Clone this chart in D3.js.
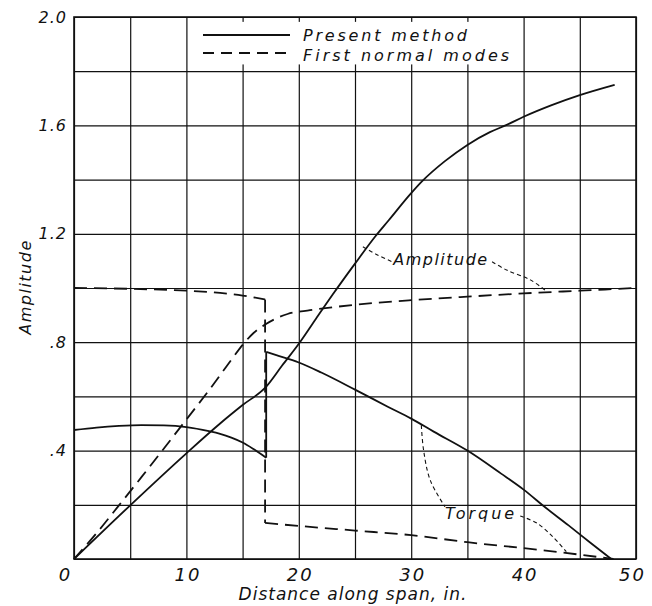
<!DOCTYPE html>
<html lang="en">
  <head>
    <meta charset="utf-8">
    <title>Amplitude along span</title>
    <script type="text/javascript" src="https://cdn.jsdelivr.net/npm/d3@7/dist/d3.min.js"></script>
    <style type="text/css">
      body { margin: 0; background: #fff; }
      text { font-family: "DejaVu Sans", sans-serif; font-style: italic; fill: #111; }
      .grid line { stroke: #111; stroke-width: 1.2; }
      .grid path { display: none; }
      .axis path, .axis line { display: none; }
      .axis text { font-size: 16px; letter-spacing: 1px; }
      .xaxis text { font-size: 18px; letter-spacing: 2px; }
    </style>
  </head>
  <body>
    <script type="text/javascript">

    // grid and ticks
    const xGrid = [0, 5, 10, 15, 20, 25, 30, 35, 40, 45, 50];
    const yGrid = [0, 0.2, 0.4, 0.6, 0.8, 1.0, 1.2, 1.4, 1.6, 1.8, 2.0];
    const xTicks = [0, 10, 20, 30, 40, 50];
    const xTickLabels = ["0", "10", "20", "30", "40", "50"];
    const yTicks = [0.4, 0.8, 1.2, 1.6, 2.0];
    const yTickLabels = [".4", ".8", "1.2", "1.6", "2.0"];

    // present method (solid)
    const presentAmplitude = [[0,0],[5,0.198],[10,0.39],[13,0.5],[15,0.568],[17.1,0.636],[18.5,0.713],[20.1,0.8],
      [21.5,0.885],[23,0.975],[25,1.09],[26.8,1.19],[28,1.25],[30,1.35],[31,1.395],[33,1.468],[35,1.528],
      [37,1.575],[38.5,1.602],[40,1.632],[42.5,1.675],[45,1.712],[48.1,1.75]];
    const presentTorqueLeft = [[0,0.476],[2,0.485],[4,0.491],[6,0.494],[8,0.493],[10,0.487],[12,0.472],
      [13,0.462],[14,0.448],[15,0.43],[16,0.405],[17.1,0.374]];
    const presentTorqueJump = [[17.1,0.374],[17.1,0.764]];
    const presentTorqueRight = [[17.1,0.764],[18,0.752],[20,0.725],[22,0.688],[25,0.625],[28,0.56],[30,0.518],
      [32,0.47],[35,0.4],[38,0.315],[40,0.256],[42,0.188],[44,0.124],[46,0.058],[47.8,0]];

    // first normal modes (dashed)
    const modesAmplitude = [[0,0],[2,0.095],[4,0.198],[6,0.302],[8,0.408],[10,0.515],[12,0.622],[14,0.735],
      [15,0.79],[16,0.835],[17,0.865],[18,0.888],[19,0.904],[21,0.918],[25,0.938],[30,0.955],[35,0.968],
      [40,0.98],[45,0.99],[50,1.0]];
    const modesTorqueLeft = [[0,1.0],[5,0.997],[10,0.99],[13,0.982],[15,0.972],[17,0.958]];
    const modesTorqueJump = [[17,0.958],[17,0.133]];
    const modesTorqueRight = [[17,0.133],[20,0.122],[25,0.105],[30,0.088],[35,0.062],[40,0.04],[45,0.016],[48,0]];

    // annotation leaders and labels
    const ampLeaderLeft = [[25.7,1.152],[27,1.122],[28.3,1.097]];
    const ampLeaderRight = [[37.2,1.097],[38.5,1.066],[40.6,1.03],[42.1,0.986]];
    const torqueLeaderLeft = [[30.9,0.494],[31.1,0.402],[31.7,0.29],[33.0,0.193]];
    const torqueLeaderRight = [[39.7,0.159],[41.2,0.132],[42.6,0.082],[43.8,0.027]];
    const labelNames = ["Amplitude", "Torque"];
    const labelX = [28.4, 33.0];
    const labelY = [1.085, 0.148];

    const w = 652;
    const h = 606;
    const margin = {top: 17, right: 16, bottom: 47, left: 74};
    const innerWidth = w - margin.left - margin.right;
    const innerHeight = h - margin.top - margin.bottom;

    const svg = d3.select("body")
                  .append("svg")
                  .attr("width", w)
                  .attr("height", h);

    const g = svg.append("g")
                 .attr("transform", "translate(" + margin.left + "," + margin.top + ")");

    const xScale = d3.scaleLinear().domain([0, 50]).range([0, innerWidth]);
    const yScale = d3.scaleLinear().domain([0, 2.0]).range([innerHeight, 0]);

    // grid
    g.append("g")
     .attr("class", "grid")
     .attr("transform", "translate(0," + innerHeight + ")")
     .call(d3.axisBottom(xScale).tickValues(xGrid).tickSize(-innerHeight).tickFormat(""));

    g.append("g")
     .attr("class", "grid")
     .call(d3.axisLeft(yScale).tickValues(yGrid).tickSize(-innerWidth).tickFormat(""));

    g.append("rect")
     .attr("width", innerWidth)
     .attr("height", innerHeight)
     .attr("fill", "none")
     .attr("stroke", "#111")
     .attr("stroke-width", 1.6);

    // legend box blanks the grid
    g.append("rect")
     .attr("x", xScale(10.6))
     .attr("y", yScale(1.982))
     .attr("width", xScale(39.9) - xScale(10.6))
     .attr("height", yScale(1.825) - yScale(1.982))
     .attr("fill", "#fff");

    // axes labels
    g.append("g")
     .attr("class", "axis xaxis")
     .attr("transform", "translate(0," + innerHeight + ")")
     .call(d3.axisBottom(xScale).tickValues(xTicks).tickSize(0).tickPadding(9)
             .tickFormat((d, i) => xTickLabels[i]))
     .selectAll("text")
     .attr("dx", (d, i) => i === 0 ? -9 : (i === xTicks.length - 1 ? -4 : 1));

    g.append("g")
     .attr("class", "axis")
     .call(d3.axisLeft(yScale).tickValues(yTicks).tickSize(0).tickPadding(7)
             .tickFormat((d, i) => yTickLabels[i]));

    // curves
    const smooth = d3.line()
                     .x(d => xScale(d[0]))
                     .y(d => yScale(d[1]))
                     .curve(d3.curveMonotoneX);
    const straight = d3.line()
                       .x(d => xScale(d[0]))
                       .y(d => yScale(d[1]));
    const leader = d3.line()
                     .x(d => xScale(d[0]))
                     .y(d => yScale(d[1]))
                     .curve(d3.curveCatmullRom);

    const solidStyle = sel => sel.attr("fill", "none").attr("stroke", "#111").attr("stroke-width", 1.8);
    const dashStyle = sel => sel.attr("fill", "none").attr("stroke", "#111").attr("stroke-width", 1.8)
                                .attr("stroke-dasharray", "13,7");
    const dotStyle = sel => sel.attr("fill", "none").attr("stroke", "#111").attr("stroke-width", 1.1)
                               .attr("stroke-dasharray", "4,3");

    [modesAmplitude, modesTorqueLeft, modesTorqueRight].forEach(s => g.append("path").attr("d", smooth(s)).call(dashStyle));
    g.append("path").attr("d", straight(modesTorqueJump)).call(dashStyle);

    [presentAmplitude, presentTorqueLeft, presentTorqueRight].forEach(s => g.append("path").attr("d", smooth(s)).call(solidStyle));
    g.append("path").attr("d", straight(presentTorqueJump)).call(solidStyle);

    [ampLeaderLeft, ampLeaderRight, torqueLeaderLeft, torqueLeaderRight]
      .forEach(s => g.append("path").attr("d", leader(s)).call(dotStyle));

    g.selectAll(".label")
     .data(labelNames)
     .enter()
     .append("text")
     .attr("class", "label")
     .attr("x", (d, i) => xScale(labelX[i]))
     .attr("y", (d, i) => yScale(labelY[i]))
     .style("font-size", "16px")
     .style("letter-spacing", (d, i) => i === 0 ? "1.5px" : "3px")
     .text(d => d);

    // legend
    const legend = g.append("g").attr("transform", "translate(129,18)");
    legend.append("line").attr("x1", 0).attr("x2", 87).attr("y1", 0).attr("y2", 0).call(solidStyle);
    legend.append("line").attr("x1", 0).attr("x2", 87).attr("y1", 18).attr("y2", 18)
          .call(dashStyle).attr("stroke-dasharray", "11,7");
    legend.append("text").attr("x", 100).attr("y", 5.5)
          .style("font-size", "16px").style("letter-spacing", "2.8px").text("Present method");
    legend.append("text").attr("x", 100).attr("y", 25.5)
          .style("font-size", "16px").style("letter-spacing", "3px").text("First normal modes");

    // axis titles
    svg.append("text")
       .attr("x", 353)
       .attr("y", 600)
       .attr("text-anchor", "middle")
       .style("font-size", "17px")
       .style("letter-spacing", "1px")
       .text("Distance along span, in.");

    svg.append("text")
       .attr("transform", "translate(31,287) rotate(-90)")
       .attr("text-anchor", "middle")
       .style("font-size", "16px")
       .style("letter-spacing", "1.5px")
       .text("Amplitude");

    </script>
  </body>
</html>
